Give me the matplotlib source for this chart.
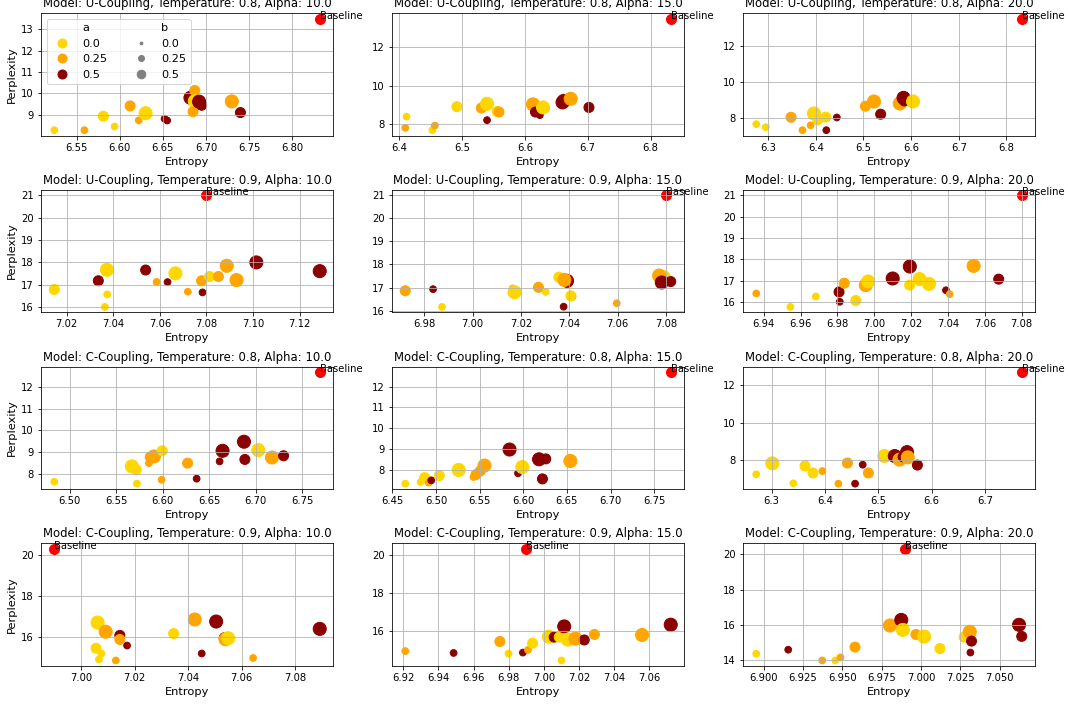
import matplotlib
matplotlib.use("Agg")
import matplotlib.pyplot as plt
from matplotlib.lines import Line2D

# ---------------- data ----------------
A_LEVELS = [0.0, 0.25, 0.5]
B_LEVELS = [0.0, 0.25, 0.5]
A_COLORS = ["#FFD700", "#FFA500", "#8B0000"]

BASE_ENT_U08, BASE_PPL_U08 = 6.832, 13.49
BASE_ENT_U09, BASE_PPL_U09 = 7.080, 21.00
BASE_ENT_C08, BASE_PPL_C08 = 6.769, 12.70
BASE_ENT_C09, BASE_PPL_C09 = 6.990, 20.32

# U-Coupling, T=0.8, alpha=10
ENT_U08_10 = [6.524, 6.559, 6.581, 6.594, 6.612, 6.622, 6.630, 6.652, 6.655, 6.682, 6.687, 6.687, 6.685, 6.692, 6.695, 6.730, 6.740]
PPL_U08_10 = [8.29, 8.29, 8.94, 8.46, 9.42, 8.75, 9.08, 8.82, 8.74, 9.80, 10.14, 9.64, 9.15, 9.62, 9.45, 9.63, 9.11]
A_U08_10 = [0, .25, 0, 0, .25, .25, 0, .5, .5, .5, .25, 0, .25, .5, .5, .25, .5]
B_U08_10 = [0, 0, .25, 0, .25, 0, .5, 0, 0, .5, .25, .5, .25, .5, .25, .5, .25]

# U-Coupling, T=0.8, alpha=15
ENT_U08_15 = [6.410, 6.412, 6.453, 6.457, 6.492, 6.531, 6.540, 6.540, 6.556, 6.559, 6.613, 6.617, 6.624, 6.629, 6.660, 6.662, 6.673, 6.702]
PPL_U08_15 = [7.82, 8.40, 7.70, 7.94, 8.92, 8.85, 9.07, 8.22, 8.67, 8.64, 9.04, 8.64, 8.48, 8.88, 9.14, 9.22, 9.33, 8.88]
A_U08_15 = [.25, 0, 0, .25, 0, .25, 0, .5, 0, .25, .25, .5, .5, 0, .5, .5, .25, .5]
B_U08_15 = [0, 0, 0, 0, .25, .25, .5, 0, .25, .25, .5, .25, 0, .5, .5, .5, .5, .25]

# U-Coupling, T=0.8, alpha=20
ENT_U08_20 = [6.275, 6.295, 6.348, 6.372, 6.389, 6.396, 6.404, 6.421, 6.422, 6.444, 6.504, 6.522, 6.536, 6.576, 6.584, 6.586, 6.604]
PPL_U08_20 = [7.67, 7.50, 8.05, 7.34, 7.61, 8.26, 7.91, 8.06, 7.34, 8.04, 8.66, 8.92, 8.22, 8.81, 9.12, 8.95, 8.92]
A_U08_20 = [0, 0, .25, .25, .25, 0, 0, 0, .5, .5, .25, .25, .5, .25, .5, .5, 0]
B_U08_20 = [0, 0, .25, 0, 0, .5, .25, .25, 0, 0, .25, .5, .25, .5, .5, .25, .5]

# U-Coupling, T=0.9, alpha=10
ENT_U09_10 = [7.0147, 7.0336, 7.0373, 7.0374, 7.0364, 7.0539, 7.0586, 7.0633, 7.0667, 7.0720, 7.0779, 7.0783, 7.0813, 7.0851, 7.0887, 7.0929, 7.1014, 7.1286]
PPL_U09_10 = [16.79, 17.18, 17.67, 16.57, 16.01, 17.66, 17.13, 17.12, 17.51, 16.69, 17.18, 16.66, 17.37, 17.37, 17.85, 17.21, 18.00, 17.61]
A_U09_10 = [0, .5, 0, 0, 0, .5, .25, .5, 0, .25, .25, .5, 0, .25, .25, .25, .5, .5]
B_U09_10 = [.25, .25, .5, 0, 0, .25, 0, 0, .5, 0, .25, 0, .25, .25, .5, .5, .5, .5]

# U-Coupling, T=0.9, alpha=15
ENT_U09_15 = [6.9721, 6.9836, 6.9873, 7.0165, 7.0173, 7.0272, 7.0302, 7.0356, 7.0412, 7.0406, 7.0376, 7.0390, 7.0379, 7.0596, 7.0790, 7.0771, 7.0782, 7.0819]
PPL_U09_15 = [16.86, 16.93, 16.16, 16.96, 16.80, 17.01, 16.81, 17.45, 16.61, 16.64, 16.17, 17.29, 17.33, 16.32, 17.45, 17.52, 17.22, 17.26]
A_U09_15 = [.25, .5, 0, .25, 0, .25, 0, 0, .5, 0, .5, .5, .25, .25, 0, .25, .5, .5]
B_U09_15 = [.25, 0, 0, 0, .5, .25, 0, .25, 0, .25, 0, .5, .5, 0, .5, .5, .5, .25]

# U-Coupling, T=0.9, alpha=20
ENT_U09_20 = [6.936, 6.9545, 6.9683, 6.9809, 6.9813, 6.9837, 6.990, 6.9954, 6.9967, 7.010, 7.0192, 7.0193, 7.0246, 7.0297, 7.0389, 7.0409, 7.0539, 7.0675]
PPL_U09_20 = [16.41, 15.78, 16.27, 16.48, 16.02, 16.89, 16.08, 16.80, 16.97, 17.11, 16.80, 17.67, 17.08, 16.86, 16.56, 16.38, 17.70, 17.08]
A_U09_20 = [.25, 0, 0, .5, .5, .25, 0, .25, 0, .5, 0, .5, 0, 0, .5, .25, .25, .5]
B_U09_20 = [0, 0, 0, .25, 0, .25, .25, .5, .5, .5, .25, .5, .5, .5, 0, 0, .5, .25]

# C-Coupling, T=0.8, alpha=10
ENT_C08_10 = [6.4835, 6.567, 6.5717, 6.5724, 6.5853, 6.5867, 6.5907, 6.5996, 6.599, 6.6269, 6.6366, 6.6613, 6.6645, 6.6875, 6.6885, 6.7029, 6.7176, 6.7301]
PPL_C08_10 = [7.63, 8.34, 8.18, 7.54, 8.49, 8.77, 8.80, 9.06, 7.72, 8.49, 7.77, 8.57, 9.06, 9.48, 8.66, 9.09, 8.75, 8.83]
A_C08_10 = [0, 0, 0, 0, .25, .25, .25, 0, .25, .25, .5, .5, .5, .5, .5, 0, .25, .5]
B_C08_10 = [0, .5, .25, 0, 0, .25, .5, .25, 0, .25, 0, 0, .5, .5, .25, .5, .5, .25]

# C-Coupling, T=0.8, alpha=15
ENT_C08_15 = [6.4648, 6.4824, 6.487, 6.4916, 6.4946, 6.5038, 6.526, 6.5429, 6.546, 6.5508, 6.5556, 6.5843, 6.594, 6.5989, 6.6181, 6.6258, 6.622, 6.654]
PPL_C08_15 = [7.34, 7.42, 7.63, 7.39, 7.50, 7.73, 8.00, 7.66, 7.78, 7.95, 8.21, 8.98, 7.84, 8.14, 8.51, 8.53, 7.57, 8.43]
A_C08_15 = [0, 0, 0, .25, .5, 0, 0, .25, .25, .25, .25, .5, .5, 0, .5, .5, .5, .25]
B_C08_15 = [0, 0, .25, 0, 0, .25, .5, 0, .25, .25, .5, .5, 0, .5, .5, .25, .25, .5]

# C-Coupling, T=0.8, alpha=20
ENT_C08_20 = [6.2712, 6.3013, 6.3407, 6.3626, 6.3776, 6.3951, 6.4252, 6.4421, 6.4565, 6.4708, 6.4815, 6.5115, 6.5309, 6.5397, 6.5466, 6.554, 6.5553, 6.5734]
PPL_C08_20 = [7.26, 7.84, 6.78, 7.70, 7.33, 7.43, 6.76, 7.86, 6.76, 7.77, 7.33, 8.23, 8.23, 8.04, 8.19, 8.44, 8.16, 7.75]
A_C08_20 = [0, 0, 0, 0, 0, .25, .25, .25, .5, .5, .25, 0, .5, .25, .5, .5, .25, .5]
B_C08_20 = [0, .5, 0, .25, .25, 0, 0, .25, 0, 0, .25, .5, .5, .5, .25, .5, .5, .25]

# C-Coupling, T=0.9, alpha=10
ENT_C09_10 = [7.0056, 7.0062, 7.0067, 7.0076, 7.0092, 7.013, 7.0145, 7.0145, 7.0172, 7.0346, 7.0425, 7.0451, 7.0505, 7.0535, 7.054, 7.055, 7.0643, 7.0892]
PPL_C09_10 = [15.44, 16.70, 14.89, 15.18, 16.25, 14.84, 16.07, 15.87, 15.57, 16.16, 16.85, 15.18, 16.75, 15.95, 15.88, 15.93, 14.96, 16.39]
A_C09_10 = [0, 0, 0, 0, .25, .25, .5, .25, .5, 0, .25, .5, .5, .5, .25, 0, .25, .5]
B_C09_10 = [.25, .5, 0, 0, .5, 0, .25, .25, 0, .25, .5, 0, .5, .25, .5, .5, 0, .5]

# C-Coupling, T=0.9, alpha=15
ENT_C09_15 = [6.9211, 6.9486, 6.9749, 6.9798, 6.988, 6.9909, 6.9935, 7.0028, 7.0058, 7.0087, 7.01, 7.0115, 7.0136, 7.0179, 7.0229, 7.0287, 7.0558, 7.0721]
PPL_C09_15 = [14.97, 14.87, 15.47, 14.84, 14.89, 15.03, 15.38, 15.72, 15.70, 15.70, 14.48, 16.26, 15.57, 15.62, 15.55, 15.84, 15.81, 16.35]
A_C09_15 = [.25, .5, .25, 0, .5, .25, 0, 0, .5, 0, 0, .5, 0, .25, .5, .25, .25, .5]
B_C09_15 = [0, 0, .25, 0, 0, 0, .25, .5, .25, .25, 0, .5, .5, .5, .25, .25, .5, .5]

# C-Coupling, T=0.9, alpha=20
ENT_C09_20 = [6.8953, 6.9156, 6.9372, 6.9455, 6.9488, 6.958, 6.9802, 6.9874, 6.9884, 6.9967, 7.0019, 7.0119, 7.0273, 7.0309, 7.032, 7.0313, 7.0622, 7.0639]
PPL_C09_20 = [14.34, 14.57, 13.96, 13.96, 14.13, 14.72, 15.95, 16.27, 15.70, 15.44, 15.32, 14.64, 15.29, 15.59, 15.06, 14.41, 15.99, 15.33]
A_C09_20 = [0, .5, .25, 0, .25, .25, .25, .5, 0, .25, 0, 0, 0, .25, .5, .5, .5, .5]
B_C09_20 = [0, 0, 0, 0, 0, .25, .5, .5, .5, .25, .5, .25, .25, .5, .25, 0, .5, .25]

PANELS = [
    ("U-Coupling", 0.8, 10.0, ENT_U08_10, PPL_U08_10, A_U08_10, B_U08_10, BASE_ENT_U08, BASE_PPL_U08),
    ("U-Coupling", 0.8, 15.0, ENT_U08_15, PPL_U08_15, A_U08_15, B_U08_15, BASE_ENT_U08, BASE_PPL_U08),
    ("U-Coupling", 0.8, 20.0, ENT_U08_20, PPL_U08_20, A_U08_20, B_U08_20, BASE_ENT_U08, BASE_PPL_U08),
    ("U-Coupling", 0.9, 10.0, ENT_U09_10, PPL_U09_10, A_U09_10, B_U09_10, BASE_ENT_U09, BASE_PPL_U09),
    ("U-Coupling", 0.9, 15.0, ENT_U09_15, PPL_U09_15, A_U09_15, B_U09_15, BASE_ENT_U09, BASE_PPL_U09),
    ("U-Coupling", 0.9, 20.0, ENT_U09_20, PPL_U09_20, A_U09_20, B_U09_20, BASE_ENT_U09, BASE_PPL_U09),
    ("C-Coupling", 0.8, 10.0, ENT_C08_10, PPL_C08_10, A_C08_10, B_C08_10, BASE_ENT_C08, BASE_PPL_C08),
    ("C-Coupling", 0.8, 15.0, ENT_C08_15, PPL_C08_15, A_C08_15, B_C08_15, BASE_ENT_C08, BASE_PPL_C08),
    ("C-Coupling", 0.8, 20.0, ENT_C08_20, PPL_C08_20, A_C08_20, B_C08_20, BASE_ENT_C08, BASE_PPL_C08),
    ("C-Coupling", 0.9, 10.0, ENT_C09_10, PPL_C09_10, A_C09_10, B_C09_10, BASE_ENT_C09, BASE_PPL_C09),
    ("C-Coupling", 0.9, 15.0, ENT_C09_15, PPL_C09_15, A_C09_15, B_C09_15, BASE_ENT_C09, BASE_PPL_C09),
    ("C-Coupling", 0.9, 20.0, ENT_C09_20, PPL_C09_20, A_C09_20, B_C09_20, BASE_ENT_C09, BASE_PPL_C09),
]

# ---------------- style ----------------
SIZE_MAP = {0.0: 45, 0.25: 100, 0.5: 170}
COLOR_MAP = dict(zip(A_LEVELS, A_COLORS))

DPI = 72
fig, axes = plt.subplots(4, 3, figsize=(1068 / DPI, 704 / DPI), dpi=DPI)
fig.subplots_adjust(left=41 / 1068, right=1035 / 1068, top=1 - 13 / 704,
                    bottom=1 - 666 / 704, wspace=0.202, hspace=0.44)

for idx, (model, temp, alpha, ent, ppl, a, b, bx, by) in enumerate(PANELS):
    ax = axes.flat[idx]
    colors = [COLOR_MAP[v] for v in a]
    sizes = [SIZE_MAP[v] for v in b]
    ax.scatter(ent, ppl, c=colors, s=sizes)
    ax.scatter([bx], [by], c="red", s=100)
    ax.text(bx, by, "Baseline", fontsize=10)
    ax.set_title(f"Model: {model}, Temperature: {temp}, Alpha: {alpha}", fontsize=11.6)
    ax.set_xlabel("Entropy", fontsize=11.4)
    if idx % 3 == 0:
        ax.set_ylabel("Perplexity", fontsize=11.4)
    ax.grid(True)
    ax.tick_params(labelsize=10)

# legend in first panel
handles, labels = [], []
handles.append(Line2D([], [], linestyle="none", marker=None))
labels.append("a")
for lvl, col in zip(A_LEVELS, A_COLORS):
    handles.append(Line2D([], [], linestyle="none", marker="o", markersize=9,
                          markerfacecolor=col, markeredgecolor=col))
    labels.append(str(lvl))
handles.append(Line2D([], [], linestyle="none", marker=None))
labels.append("b")
for lvl, ms in zip(B_LEVELS, [2.8, 6.0, 8.6]):
    handles.append(Line2D([], [], linestyle="none", marker="o", markersize=ms,
                          markerfacecolor="gray", markeredgecolor="gray"))
    labels.append(str(lvl))
axes.flat[0].legend(handles, labels, ncol=2, loc="upper left", fontsize=11.2)

fig.savefig("out.png", dpi=DPI)
